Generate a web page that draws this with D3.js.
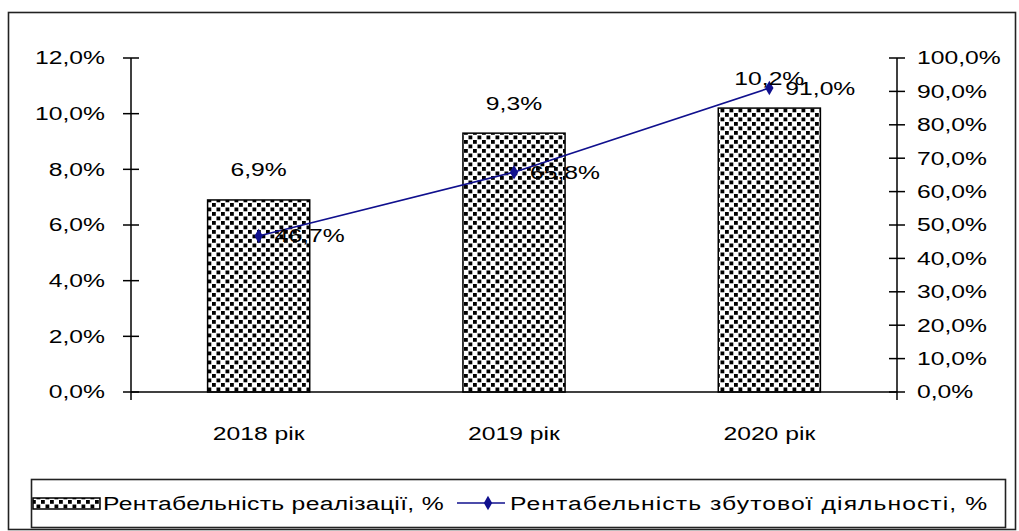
<!DOCTYPE html>
<html>
<head>
<meta charset="utf-8">
<script src="https://cdn.jsdelivr.net/npm/d3@7"></script>
<style>
  html, body { margin: 0; padding: 0; background: #fff; }
  svg { display: block; }
  text { font-family: "Liberation Sans", Arial, sans-serif; fill: #000; }
</style>
</head>
<body>
<svg id="chart" width="1019" height="531"></svg>
<script>
// Categories and series
const years = ["2018 рік", "2019 рік", "2020 рік"];
const salesReturn = [6.9, 9.3, 10.2];          // Рентабельність реалізації, %
const marketingReturn = [46.7, 65.8, 91.0];    // Рентабельність збутової діяльності, %
const leftTicks = [0, 2, 4, 6, 8, 10, 12];
const rightTicks = [0, 10, 20, 30, 40, 50, 60, 70, 80, 90, 100];
const barName = "Рентабельність реалізації, %";
const lineName = "Рентабельність збутової діяльності, %";

const fmt = v => d3.format(".1f")(v).replace(".", ",") + "%";

const W = 1019, H = 531;
const FS = 19;      // font size
const SX = 1.3;     // horizontal stretch of the lettering
const margin = { left: 131, right: W - 897, top: 58, bottom: H - 392 };

const svg = d3.select("#chart");

// Fill pattern for the bars: staggered black squares
const defs = svg.append("defs");
const pat = defs.append("pattern")
  .attr("id", "confetti")
  .attr("patternUnits", "userSpaceOnUse")
  .attr("width", 9).attr("height", 9);
pat.append("rect").attr("width", 9).attr("height", 9).attr("fill", "#fff");
[[0.5, 0.5], [5, 5]].forEach(([px, py]) =>
  pat.append("rect").attr("x", px).attr("y", py).attr("width", 3.8).attr("height", 3.8).attr("fill", "#000"));

// Outer frame
svg.append("rect")
  .attr("x", 8.5).attr("y", 12.5)
  .attr("width", 1007).attr("height", 517)
  .attr("fill", "none").attr("stroke", "#222").attr("stroke-width", 1.6);

// Helper: stretched text anchored at (x, y)
function label(g, x, y, str, anchor) {
  return g.append("text")
    .attr("transform", `translate(${x},${y}) scale(${SX},1)`)
    .attr("text-anchor", anchor || "start")
    .attr("dominant-baseline", "central")
    .attr("font-size", FS)
    .text(str);
}

const x = d3.scaleBand()
  .domain(years)
  .range([margin.left, W - margin.right])
  .paddingInner(0.6).paddingOuter(0.3);

const yL = d3.scaleLinear().domain([0, 12]).range([H - margin.bottom, margin.top]);
const yR = d3.scaleLinear().domain([0, 100]).range([H - margin.bottom, margin.top]);

const g = svg.append("g");

// Bars
g.selectAll("rect.bar")
  .data(salesReturn)
  .join("rect")
  .attr("class", "bar")
  .attr("x", (d, i) => x(years[i]))
  .attr("y", d => yL(d))
  .attr("width", x.bandwidth())
  .attr("height", d => yL(0) - yL(d))
  .attr("fill", "url(#confetti)")
  .attr("stroke", "#000")
  .attr("stroke-width", 1.5);

// Axes
const x0 = margin.left, x1 = W - margin.right, yb = yL(0);
const axes = g.append("g").attr("stroke", "#000").attr("stroke-width", 1.5);
axes.append("line").attr("x1", x0).attr("x2", x1).attr("y1", yb).attr("y2", yb);
axes.append("line").attr("x1", x0).attr("x2", x0).attr("y1", yL(12)).attr("y2", yb + 8);
axes.append("line").attr("x1", x1).attr("x2", x1).attr("y1", yR(100)).attr("y2", yb + 8);

leftTicks.forEach(t => {
  axes.append("line").attr("x1", x0 - 8).attr("x2", x0 + 8).attr("y1", yL(t)).attr("y2", yL(t));
  label(g, x0 - 26, yL(t), fmt(t), "end");
});
rightTicks.forEach(t => {
  axes.append("line").attr("x1", x1 - 8).attr("x2", x1 + 8).attr("y1", yR(t)).attr("y2", yR(t));
  label(g, x1 + 20, yR(t), fmt(t), "start");
});

years.forEach(c => label(g, x(c) + x.bandwidth() / 2, yb + 42, c, "middle"));

// Line series on the right axis
const cx = i => x(years[i]) + x.bandwidth() / 2;
const line = d3.line().x((d, i) => cx(i)).y(d => yR(d));
g.append("path")
  .datum(marketingReturn)
  .attr("d", line)
  .attr("fill", "none")
  .attr("stroke", "#10108e")
  .attr("stroke-width", 1.7);

const diamond = d3.symbol().type(d3.symbolDiamond).size(60);
g.selectAll("path.pt")
  .data(marketingReturn)
  .join("path")
  .attr("class", "pt")
  .attr("transform", (d, i) => `translate(${cx(i)},${yR(d)})`)
  .attr("d", diamond)
  .attr("fill", "#10108e");

// Value labels
salesReturn.forEach((d, i) => label(g, cx(i), yL(d) - 30, fmt(d), "middle"));
marketingReturn.forEach((d, i) => label(g, cx(i) + 16, yR(d), fmt(d), "start"));

// Legend
const leg = svg.append("g");
leg.append("rect")
  .attr("x", 31.5).attr("y", 479.5)
  .attr("width", 974).attr("height", 48)
  .attr("fill", "#fff").attr("stroke", "#222").attr("stroke-width", 1.6);
leg.append("rect")
  .attr("x", 33).attr("y", 498).attr("width", 67).attr("height", 11)
  .attr("fill", "url(#confetti)").attr("stroke", "#000").attr("stroke-width", 1.5);
label(leg, 103, 504, barName, "start").attr("textLength", 262).attr("lengthAdjust", "spacing");
leg.append("line").attr("x1", 457).attr("x2", 505).attr("y1", 503).attr("y2", 503)
  .attr("stroke", "#10108e").attr("stroke-width", 1.7);
leg.append("path").attr("transform", "translate(488,503)").attr("d", diamond).attr("fill", "#10108e");
label(leg, 510, 504, lineName, "start").attr("textLength", 367).attr("lengthAdjust", "spacing");
</script>
</body>
</html>
